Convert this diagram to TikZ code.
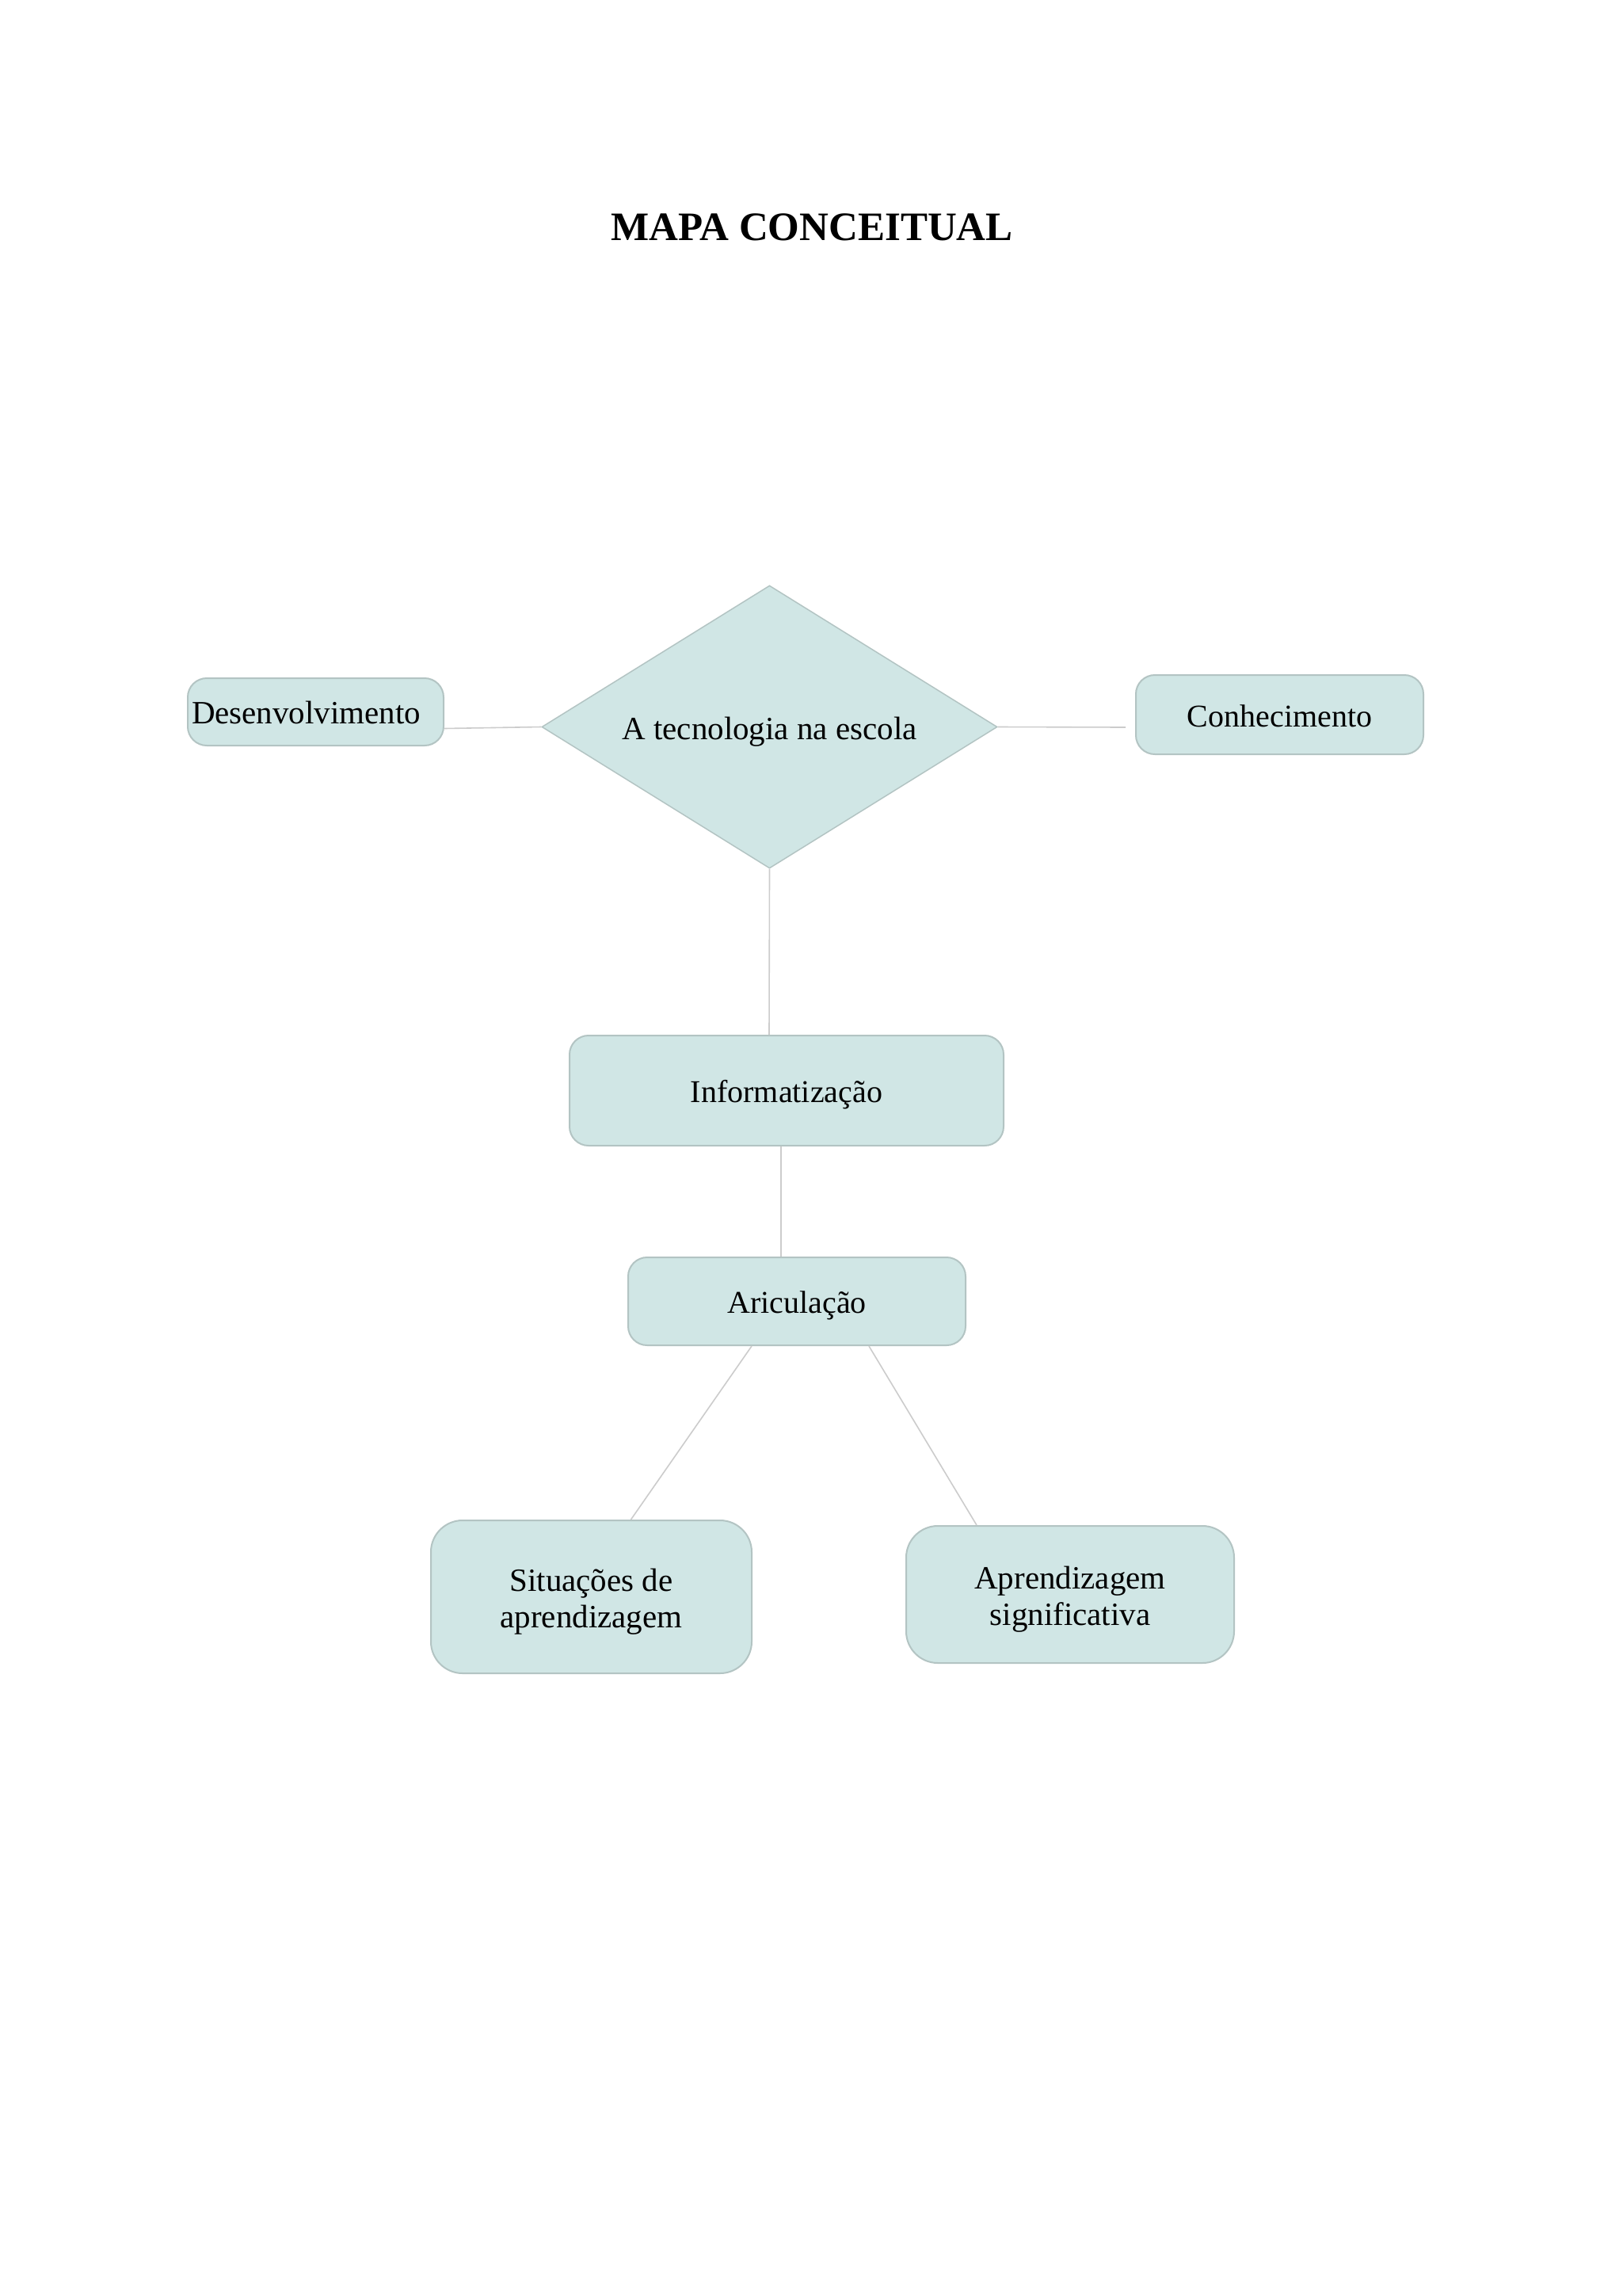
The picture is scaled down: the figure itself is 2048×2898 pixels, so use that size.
\documentclass[tikz,border=0pt]{standalone}
\usepackage{fontspec}
\setmainfont{Liberation Serif}
\usetikzlibrary{shapes.geometric}
\definecolor{boxfill}{HTML}{D0E6E5}
\definecolor{boxline}{HTML}{B3C4C3}
\definecolor{linkgrey}{HTML}{CCCCCC}
\begin{document}
\begin{tikzpicture}[x=1pt,y=-1pt,
  box/.style={draw=boxline, fill=boxfill, line width=2pt, rounded corners=24pt, inner sep=0pt, align=center},
  onefont/.style={font=\fontsize{40}{46}\selectfont, text height=30pt, text depth=0pt},
  twofont/.style={font=\fontsize{41}{46}\selectfont},
  linkline/.style={draw=linkgrey, line width=1.6pt}]
\useasboundingbox[fill=white] (0,0) rectangle (2048,2898);

\node[font=\bfseries\fontsize{51}{56}\selectfont, anchor=base] (title) at (1025,303) {MAPA CONCEITUAL};

\node[diamond, draw=boxline, fill=boxfill, line width=1.5pt, minimum width=575pt, minimum height=357pt, inner sep=0pt, shape aspect=1.61, font=\fontsize{41}{46}\selectfont, text height=32pt, text depth=0pt] (dia) at (971.5,917.5) {A tecnologia na escola};

\node[box, onefont, font=\fontsize{41}{46}\selectfont, minimum width=323pt, minimum height=85pt, text width=313pt, align=left] (des) at (398.5,898.5) {Desenvolvimento};
\node[box, onefont, minimum width=363pt, minimum height=100pt] (con) at (1615.5,902) {Conhecimento};
\node[box, onefont, minimum width=548pt, minimum height=139pt] (info) at (993,1376.5) {Informatização};
\node[box, onefont, minimum width=426pt, minimum height=111pt] (ari) at (1006,1642.5) {Ariculação};
\node[box, twofont, rounded corners=40pt, minimum width=405pt, minimum height=193pt] (sit) at (746.5,2015.5) {\rule{0pt}{40pt}Situações de\\aprendizagem};
\node[box, twofont, rounded corners=40pt, minimum width=414pt, minimum height=173pt] (apr) at (1351,2012.5) {\rule{0pt}{40pt}Aprendizagem\\significativa};

\draw[linkline] ([yshift=-21pt]des.east) -- (dia.west);
\draw[linkline] (dia.east) -- ([xshift=-12pt,yshift=-16pt]con.west);
\draw[linkline] (dia.south) -- ([xshift=-22pt]info.north);
\draw[linkline] ([xshift=-7pt]info.south) -- ([xshift=-20pt]ari.north);
\draw[linkline] ([xshift=-57pt]ari.south) -- ([xshift=50pt]sit.north);
\draw[linkline] ([xshift=91pt]ari.south) -- ([xshift=-118pt]apr.north);
\end{tikzpicture}
\end{document}
